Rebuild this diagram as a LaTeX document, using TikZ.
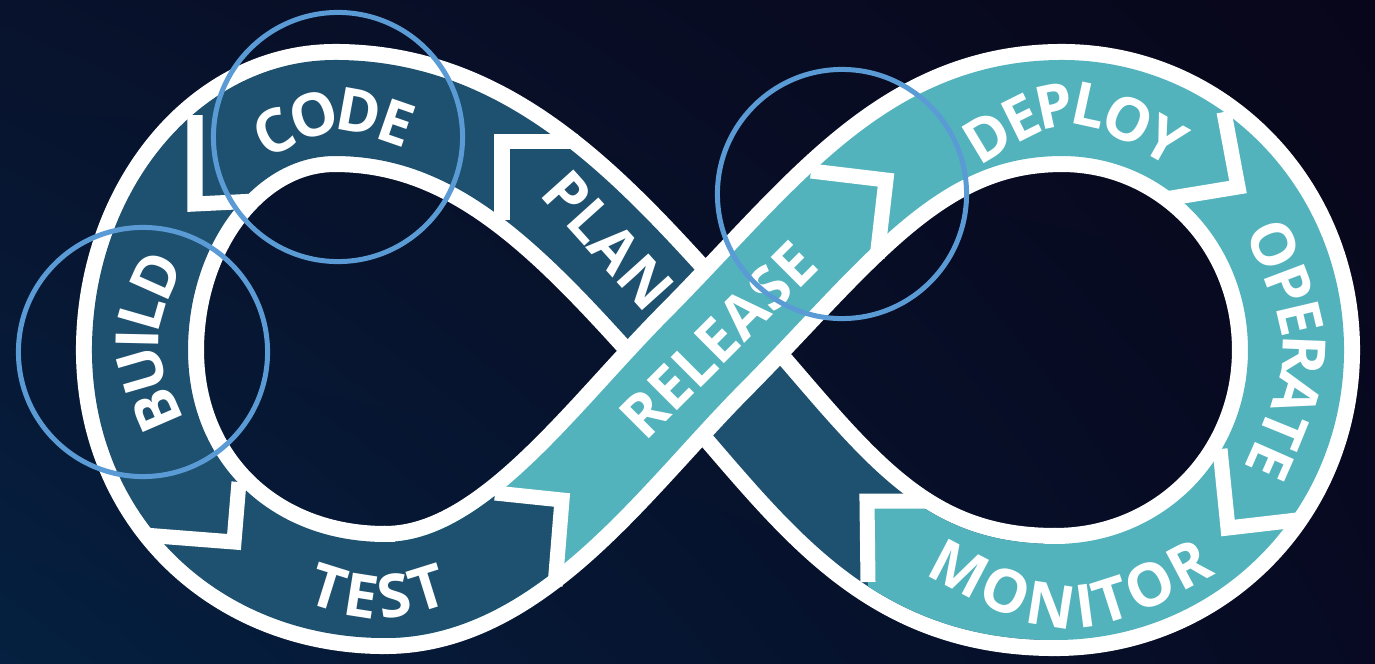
\documentclass[tikz,border=0pt]{standalone}
\usepackage{fontspec}
\newfontfamily\opensans{Open Sans}
\usetikzlibrary{decorations.text,shadings}

\definecolor{navyA}{RGB}{8,18,44}
\definecolor{navyB}{RGB}{5,32,64}
\definecolor{navyC}{RGB}{8,6,26}
\definecolor{navyD}{RGB}{7,10,34}
\definecolor{bandblue}{RGB}{30,81,112}
\definecolor{bandteal}{RGB}{82,179,189}
\definecolor{ringblue}{RGB}{91,155,213}

\newcommand{\lblfont}{\opensans\bfseries\fontsize{17}{17}\selectfont}

\tikzset{
  ribbon/.style={white, line width=0.16cm, double=#1, double distance=0.96cm},
  band/.style={line width=0.96cm},
  notch/.style={white, line width=0.15cm, line join=miter},
  ring/.style={ringblue, line width=0.05cm},
  lbl/.style={decorate, decoration={text along path, text align=center, text color=white, raise=-6pt}},
}

\begin{document}
\begin{tikzpicture}[x=0.01cm, y=-0.01cm]
\shade[upper left=navyA, lower left=navyB, upper right=navyC, lower right=navyD] (0,0) rectangle (1375,663);
\useasboundingbox (0,0) rectangle (1375,663);

% knots of the loop
\coordinate (X) at (704,352);
\coordinate (T1) at (335,108);
\coordinate (L) at (140,350);
\coordinate (B1) at (385,590);
\coordinate (T2) at (1062,108);
\coordinate (R) at (1296,350);
\coordinate (B2) at (1055,592);

% strand under the crossing
\draw[ribbon=bandblue] (B2) .. controls (885,592) and (818,478) .. (X)
  .. controls (590,225) and (490,108) .. (T1)
  .. controls (225,108) and (140,220) .. (L)
  .. controls (140,490) and (245,590) .. (B1);
\begin{scope}
\clip (867,501) -- (1400,501) -- (1400,700) -- (869,700) -- cycle;
\draw[band, bandteal] (B2) .. controls (885,592) and (818,478) .. (X);
\end{scope}

% strand over the crossing
\draw[ribbon=bandteal] (B1) .. controls (510,590) and (605,452) .. (X)
  .. controls (830,225) and (910,108) .. (T2)
  .. controls (1192,108) and (1296,215) .. (R)
  .. controls (1296,485) and (1190,592) .. (B2);
\begin{scope}
\clip (562,500) -- (300,478) -- (300,700) -- (548,700) -- cycle;
\draw[band, bandblue] (B1) .. controls (510,590) and (605,452) .. (X);
\end{scope}

% joins
\draw[ribbon=bandblue] (375,590) -- (395,590);
\draw[ribbon=bandteal] (1045,592) -- (1065,592);

% arrow gaps
\draw[notch] (578,141) -- (502,141) -- (502,220);
\draw[notch] (195,115) -- (195,204) -- (256,201);
\draw[notch] (144,535) -- (234,542) -- (239,482);
\draw[notch] (495,493) -- (562,500) -- (555,586);
\draw[notch] (811,171) -- (886,180) -- (877,258);
\draw[notch] (1224,112) -- (1238,187) -- (1165,199);
\draw[notch] (1220,449) -- (1228,528) -- (1297,520);
\draw[notch] (926,501) -- (867,501) -- (868,582);

% labels
\path[lbl, decoration={text={|\lblfont|CODE}}] (240,150) .. controls (335,100) .. (430,135);
\path[lbl, decoration={text={|\lblfont|BUILD}}] (175,450) .. controls (125,340) .. (175,235);
\path[lbl, decoration={text={|\lblfont|TEST}}] (290,575) .. controls (378,605) .. (466,575);
\path[lbl, decoration={text={|\lblfont|DEPLOY}}] (950,160) .. controls (1070,85) .. (1200,160);
\path[lbl, decoration={text={|\lblfont|OPERATE}}] (1255,205) .. controls (1320,350) .. (1255,495);
\path[lbl, decoration={text={|\lblfont|MONITOR}}] (905,540) .. controls (1070,630) .. (1235,540);
\node[rotate=-48, text=white, font=\lblfont] (plan) at (608,240) {PLAN};
\node[rotate=45, text=white, font=\lblfont] (release) at (718,340) {RELEASE};

% rings
\draw[ring] (338,137) circle[radius=1.245cm];
\draw[ring] (143,352) circle[radius=1.245cm];
\draw[ring] (842,194) circle[radius=1.245cm];

\end{tikzpicture}
\end{document}
